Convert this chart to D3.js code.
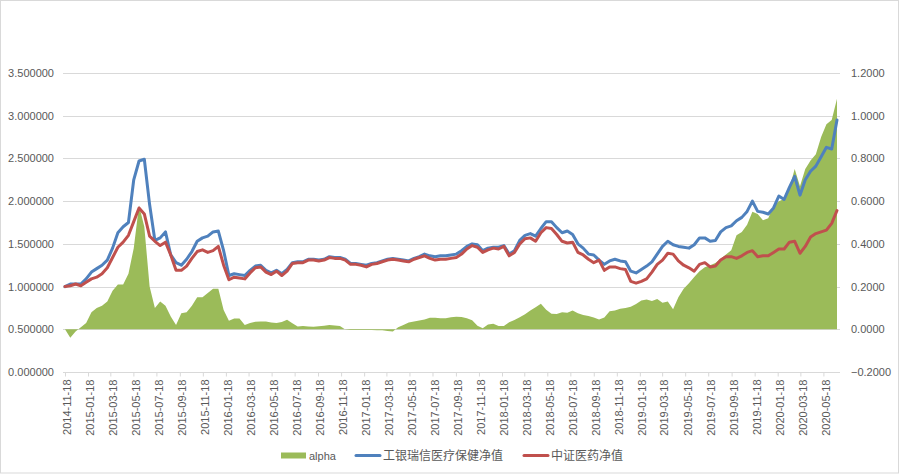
<!DOCTYPE html>
<html><head><meta charset="utf-8">
<script src="https://cdn.jsdelivr.net/npm/d3@7"></script>
<style>
body{margin:0;background:#fff}
text{font-family:"Liberation Sans","Noto Sans CJK SC",sans-serif}
</style>
</head><body>
<svg id="c" width="900" height="475"></svg>
<script>
// Categories: biweekly sample dates
const dates = [
"2014-11-18","2014-12-02","2014-12-16","2014-12-30",
"2015-01-13","2015-01-27","2015-02-10","2015-02-24","2015-03-10","2015-03-24","2015-04-07","2015-04-21","2015-05-05","2015-05-19","2015-06-02","2015-06-16","2015-06-30","2015-07-14","2015-07-28","2015-08-11","2015-08-25","2015-09-08","2015-09-22","2015-10-06","2015-10-20","2015-11-03","2015-11-17","2015-12-01","2015-12-15","2015-12-29",
"2016-01-12","2016-01-26","2016-02-09","2016-02-23","2016-03-08","2016-03-22","2016-04-05","2016-04-19","2016-05-03","2016-05-17","2016-05-31","2016-06-14","2016-06-28","2016-07-12","2016-07-26","2016-08-09","2016-08-23","2016-09-06","2016-09-20","2016-10-04","2016-10-18","2016-11-01","2016-11-15","2016-11-29","2016-12-13","2016-12-27",
"2017-01-10","2017-01-24","2017-02-07","2017-02-21","2017-03-07","2017-03-21","2017-04-04","2017-04-18","2017-05-02","2017-05-16","2017-05-30","2017-06-13","2017-06-27","2017-07-11","2017-07-25","2017-08-08","2017-08-22","2017-09-05","2017-09-19","2017-10-03","2017-10-17","2017-10-31","2017-11-14","2017-11-28","2017-12-12","2017-12-26",
"2018-01-09","2018-01-23","2018-02-06","2018-02-20","2018-03-06","2018-03-20","2018-04-03","2018-04-17","2018-05-01","2018-05-15","2018-05-29","2018-06-12","2018-06-26","2018-07-10","2018-07-24","2018-08-07","2018-08-21","2018-09-04","2018-09-18","2018-10-02","2018-10-16","2018-10-30","2018-11-13","2018-11-27","2018-12-11","2018-12-25",
"2019-01-08","2019-01-22","2019-02-05","2019-02-19","2019-03-05","2019-03-19","2019-04-02","2019-04-16","2019-04-30","2019-05-14","2019-05-28","2019-06-11","2019-06-25","2019-07-09","2019-07-23","2019-08-06","2019-08-20","2019-09-03","2019-09-17","2019-10-01","2019-10-15","2019-10-29","2019-11-12","2019-11-26","2019-12-10","2019-12-24",
"2020-01-07","2020-01-21","2020-02-04","2020-02-18","2020-03-03","2020-03-17","2020-03-31","2020-04-14","2020-04-28","2020-05-12","2020-05-26","2020-06-09","2020-06-23"
];

// 工银瑞信医疗保健净值 (left axis)
const fundNav = [
1.00,1.03,1.03,1.03,1.09,1.17,1.21,1.25,1.31,1.45,
1.63,1.70,1.75,2.25,2.47,2.49,1.96,1.54,1.57,1.64,
1.37,1.28,1.25,1.32,1.41,1.53,1.57,1.59,1.64,1.65,
1.42,1.13,1.15,1.14,1.13,1.19,1.24,1.25,1.19,1.16,
1.19,1.15,1.20,1.28,1.29,1.29,1.32,1.32,1.31,1.32,
1.35,1.34,1.34,1.32,1.27,1.27,1.26,1.25,1.27,1.28,
1.30,1.32,1.33,1.32,1.31,1.30,1.33,1.35,1.38,1.36,
1.35,1.36,1.36,1.37,1.38,1.42,1.47,1.50,1.49,1.42,
1.45,1.46,1.46,1.48,1.38,1.42,1.54,1.60,1.62,1.59,
1.68,1.76,1.76,1.69,1.63,1.65,1.61,1.50,1.45,1.38,
1.37,1.31,1.26,1.30,1.32,1.30,1.29,1.18,1.16,1.20,
1.24,1.29,1.38,1.47,1.53,1.49,1.47,1.46,1.45,1.49,
1.57,1.57,1.53,1.54,1.64,1.69,1.71,1.77,1.81,1.88,
2.00,1.88,1.87,1.85,1.92,2.06,2.02,2.16,2.29,2.07,
2.25,2.35,2.41,2.52,2.63,2.61,2.95
];

// 中证医药净值 (left axis)
const indexNav = [
1.00,1.01,1.03,1.01,1.05,1.09,1.11,1.15,1.22,1.34,
1.46,1.52,1.60,1.76,1.92,1.85,1.59,1.53,1.48,1.52,
1.37,1.19,1.19,1.24,1.33,1.41,1.43,1.40,1.42,1.47,
1.25,1.08,1.11,1.10,1.09,1.16,1.22,1.23,1.17,1.14,
1.18,1.13,1.18,1.27,1.28,1.28,1.31,1.31,1.30,1.31,
1.34,1.33,1.33,1.31,1.26,1.26,1.25,1.23,1.26,1.27,
1.29,1.31,1.32,1.31,1.30,1.29,1.32,1.34,1.36,1.33,
1.31,1.32,1.32,1.33,1.34,1.38,1.44,1.48,1.46,1.40,
1.43,1.45,1.44,1.47,1.36,1.40,1.50,1.56,1.57,1.53,
1.63,1.69,1.68,1.61,1.53,1.51,1.52,1.40,1.37,1.32,
1.28,1.31,1.19,1.23,1.23,1.21,1.20,1.06,1.04,1.06,
1.09,1.17,1.26,1.31,1.39,1.38,1.30,1.25,1.22,1.18,
1.26,1.28,1.23,1.24,1.31,1.35,1.35,1.33,1.36,1.40,
1.42,1.35,1.36,1.36,1.40,1.44,1.44,1.52,1.53,1.39,
1.47,1.58,1.62,1.64,1.66,1.74,1.89
];

// alpha (right axis)
const alpha = [
0.00,-0.04,-0.01,0.01,0.03,0.08,0.10,0.11,0.13,0.18,
0.21,0.21,0.26,0.38,0.58,0.48,0.20,0.10,0.13,0.11,
0.06,0.02,0.075,0.08,0.11,0.15,0.15,0.17,0.19,0.19,
0.09,0.04,0.05,0.05,0.02,0.03,0.035,0.036,0.036,0.032,
0.03,0.034,0.045,0.028,0.013,0.015,0.013,0.012,0.014,0.016,
0.02,0.018,0.015,-0.001,-0.003,-0.003,-0.003,-0.003,-0.003,-0.004,
-0.005,-0.008,-0.01,0.01,0.02,0.032,0.037,0.041,0.046,0.054,
0.054,0.052,0.052,0.056,0.059,0.058,0.052,0.042,0.017,0.005,
0.022,0.026,0.015,0.015,0.033,0.043,0.056,0.07,0.088,0.103,
0.12,0.092,0.073,0.072,0.08,0.078,0.088,0.075,0.067,0.062,
0.055,0.046,0.055,0.084,0.088,0.096,0.10,0.105,0.118,0.135,
0.14,0.133,0.142,0.124,0.13,0.094,0.15,0.19,0.215,0.245,
0.272,0.29,0.30,0.31,0.33,0.35,0.37,0.44,0.456,0.49,
0.55,0.54,0.51,0.52,0.58,0.60,0.61,0.66,0.75,0.67,
0.75,0.79,0.82,0.90,0.96,0.98,1.08
];

const leftTicks = [0,0.5,1.0,1.5,2.0,2.5,3.0,3.5];
const rightTicks = [-0.2,0,0.2,0.4,0.6,0.8,1.0,1.2];
const xTickLabels = [
"2014-11-18","2015-01-18","2015-03-18","2015-05-18","2015-07-18","2015-09-18","2015-11-18",
"2016-01-18","2016-03-18","2016-05-18","2016-07-18","2016-09-18","2016-11-18",
"2017-01-18","2017-03-18","2017-05-18","2017-07-18","2017-09-18","2017-11-18",
"2018-01-18","2018-03-18","2018-05-18","2018-07-18","2018-09-18","2018-11-18",
"2019-01-18","2019-03-18","2019-05-18","2019-07-18","2019-09-18","2019-11-18",
"2020-01-18","2020-03-18","2020-05-18"
];
const seriesNames = ["alpha","工银瑞信医疗保健净值","中证医药净值"];
const colors = {alpha:"#9BBB59", fund:"#4F81BD", index:"#C0504D"};

const parse = d3.timeParse("%Y-%m-%d");
const D = dates.map(parse);
const svg = d3.select("#c");

svg.append("rect").attr("x",0.5).attr("y",0.5).attr("width",898).attr("height",472.5)
  .attr("fill","#fff").attr("stroke","#d9d9d9");

const plotL = 63, plotR = 840;
const x = d3.scaleTime().domain([D[0], D[D.length-1]]).range([65, 837]);
const yL = d3.scaleLinear().domain([0,3.5]).range([372,73]);
const yR = d3.scaleLinear().domain([-0.2,1.2]).range([372,73]);

// gridlines
svg.append("g").selectAll("line").data(leftTicks).join("line")
  .attr("x1",plotL).attr("x2",plotR)
  .attr("y1",d=>Math.round(yL(d))+0.5).attr("y2",d=>Math.round(yL(d))+0.5)
  .attr("stroke","#d9d9d9").attr("stroke-width",1);

// left axis
const gL = svg.append("g").attr("transform",`translate(${plotL},0)`)
  .call(d3.axisLeft(yL).tickValues(leftTicks).tickFormat(d3.format(".6f")).tickSize(0).tickPadding(9));
gL.select(".domain").remove();
gL.selectAll("text").attr("fill","#595959").style("font-size","11px");

// right axis
const gR = svg.append("g").attr("transform",`translate(${plotR},0)`)
  .call(d3.axisRight(yR).tickValues(rightTicks).tickFormat(d3.format(".4f")).tickSize(0).tickPadding(11));
gR.select(".domain").remove();
gR.selectAll("text").attr("fill","#595959").style("font-size","11px");

// alpha area
const area = d3.area().x((d,i)=>x(D[i])).y0(yR(0)).y1(d=>yR(d));
svg.append("path").datum(alpha).attr("d",area).attr("fill",colors.alpha);

// lines
const lineL = d3.line().x((d,i)=>x(D[i])).y(d=>yL(d));
svg.append("path").datum(fundNav).attr("d",lineL).attr("fill","none")
  .attr("stroke",colors.fund).attr("stroke-width",3).attr("stroke-linejoin","round").attr("stroke-linecap","round");
svg.append("path").datum(indexNav).attr("d",lineL).attr("fill","none")
  .attr("stroke",colors.index).attr("stroke-width",3).attr("stroke-linejoin","round").attr("stroke-linecap","round");

// x axis
const gX = svg.append("g").attr("transform","translate(0,372.5)")
  .call(d3.axisBottom(x).tickValues(xTickLabels.map(parse)).tickFormat(d3.timeFormat("%Y-%m-%d")).tickSize(4).tickSizeOuter(0));
gX.select(".domain").attr("stroke","#d9d9d9").attr("d",`M${plotL},0H${plotR}`);
gX.selectAll(".tick line").attr("stroke","#d9d9d9");
gX.selectAll("text").attr("fill","#595959").style("font-size","11px")
  .attr("transform","rotate(-90)").attr("text-anchor","end")
  .attr("x",-7).attr("y",2).attr("dy","0.35em");

// legend
const lg = svg.append("g");
lg.append("rect").attr("x",281).attr("y",452.5).attr("width",25).attr("height",6).attr("fill",colors.alpha);
lg.append("text").attr("x",309).attr("y",459.5).text(seriesNames[0]).attr("fill","#595959").style("font-size","11px");
lg.append("line").attr("x1",356).attr("x2",380).attr("y1",455.5).attr("y2",455.5)
  .attr("stroke",colors.fund).attr("stroke-width",3).attr("stroke-linecap","round");
lg.append("text").attr("x",383).attr("y",460).text(seriesNames[1]).attr("fill","#595959").style("font-size","12px");
lg.append("line").attr("x1",524).attr("x2",548).attr("y1",455.5).attr("y2",455.5)
  .attr("stroke",colors.index).attr("stroke-width",3).attr("stroke-linecap","round");
lg.append("text").attr("x",551).attr("y",460).text(seriesNames[2]).attr("fill","#595959").style("font-size","12px");
</script>
</body></html>
